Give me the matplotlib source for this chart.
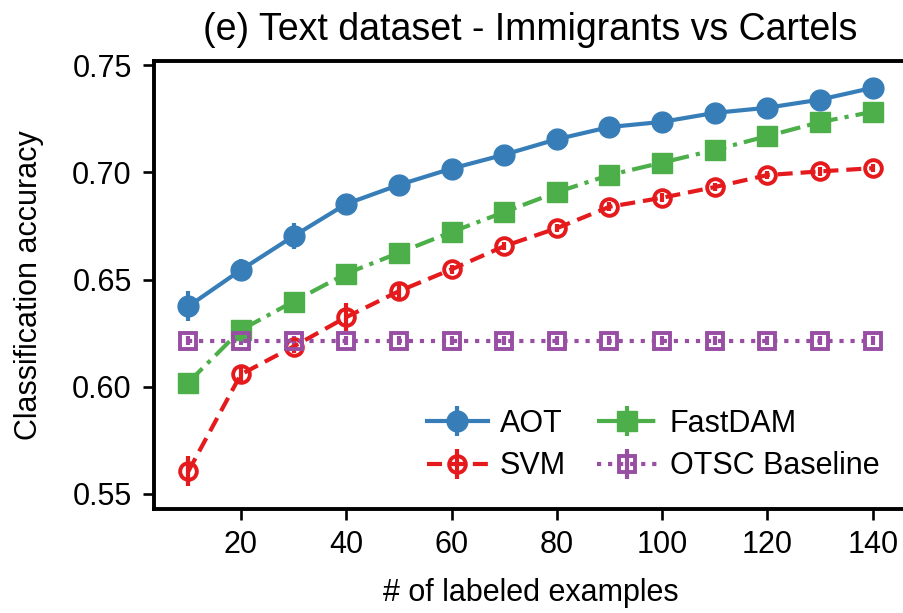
import matplotlib
matplotlib.use('Agg')
import matplotlib.pyplot as plt

plt.rcParams['font.family'] = ['Liberation Sans', 'DejaVu Sans']

# labeled examples
n_labeled = [10, 20, 30, 40, 50, 60, 70, 80, 90, 100, 110, 120, 130, 140]

aot = [0.6375, 0.6545, 0.6703, 0.6853, 0.6942, 0.7018, 0.7083, 0.7155,
       0.7212, 0.7236, 0.7278, 0.7302, 0.7340, 0.7395]
aot_err = [0.007, 0.005, 0.006, 0.003, 0.002, 0.002, 0.002, 0.002,
           0.002, 0.002, 0.002, 0.002, 0.002, 0.002]

svm = [0.5605, 0.6058, 0.6188, 0.6325, 0.6446, 0.6548, 0.6656, 0.6740,
       0.6840, 0.6882, 0.6932, 0.6988, 0.7005, 0.7020]
svm_err = [0.007, 0.003, 0.003, 0.0065, 0.003, 0.002, 0.002, 0.002,
           0.002, 0.002, 0.002, 0.002, 0.002, 0.002]

fastdam = [0.6020, 0.6265, 0.6398, 0.6528, 0.6625, 0.6722, 0.6815, 0.6908,
           0.6988, 0.7046, 0.7105, 0.7170, 0.7235, 0.7283]
fastdam_err = [0.002] * 14

otsc = [0.6215] * 14
otsc_err = [0.002] * 14

W, H = 904, 613
fig = plt.figure(figsize=(W / 100, H / 100), dpi=100)
ax = fig.add_axes([154 / W, (H - 509) / H, (907 - 154) / W, (509 - 61) / H])

lw = 3.0
ax.errorbar(n_labeled, aot, yerr=aot_err, color='#377eb8', linestyle='-',
            linewidth=lw, elinewidth=lw, marker='o', markersize=15, label='AOT')
ax.errorbar(n_labeled, svm, yerr=svm_err, color='#e41a1c',
            linestyle=(0, (3.6, 1.9)),
            linewidth=lw, elinewidth=lw, marker='o', markersize=12,
            markerfacecolor='none', markeredgewidth=2.8, label='SVM')
ax.errorbar(n_labeled, fastdam, yerr=fastdam_err, color='#4daf4a',
            linestyle=(0, (4.8, 1.7, 1, 1.7)),
            linewidth=lw, elinewidth=lw, marker='s', markersize=14, label='FastDAM')
ax.errorbar(n_labeled, otsc, yerr=otsc_err, color='#984ea3', linestyle=':',
            linewidth=lw, elinewidth=lw, marker='s', markersize=12,
            markerfacecolor='none', markeredgewidth=2.8, label='OTSC Baseline')

ax.set_xlim(3.5, 146.5)
ax.set_ylim(0.543, 0.752)
ax.set_xticks([20, 40, 60, 80, 100, 120, 140])
ax.set_yticks([0.55, 0.60, 0.65, 0.70, 0.75])
ax.set_yticklabels(['0.55', '0.60', '0.65', '0.70', '0.75'])

for s in ax.spines.values():
    s.set_linewidth(2.8)
ax.tick_params(axis='both', direction='out', length=8, width=1.9,
               labelsize=22)
ax.tick_params(axis='y', pad=8)
ax.tick_params(axis='x', pad=7)

ax.set_title('(e) Text dataset - Immigrants vs Cartels', fontsize=27, pad=15)
ax.set_xlabel('# of labeled examples', fontsize=22, labelpad=13)
ax.set_ylabel('Classification accuracy', fontsize=22, labelpad=20)

ax.legend(loc='lower right', ncol=2, frameon=False, fontsize=22,
          handlelength=2.0, handletextpad=0.4, columnspacing=1.0,
          labelspacing=0.42, borderaxespad=0.5)

fig.savefig('out.png', dpi=100)
